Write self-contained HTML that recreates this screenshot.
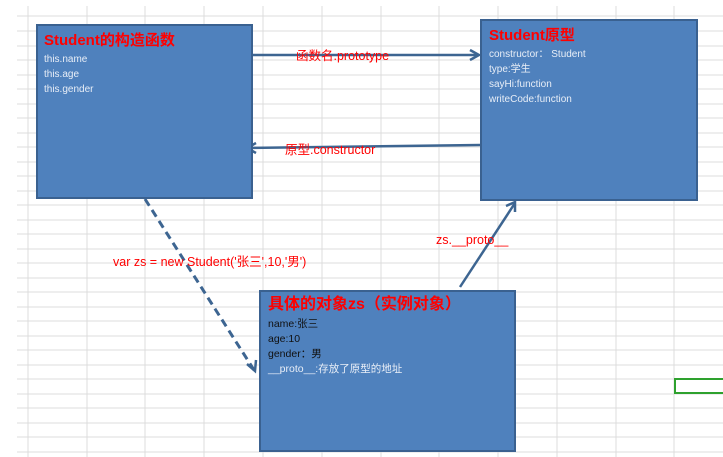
<!DOCTYPE html>
<html><head><meta charset="utf-8"><style>
body{margin:0;width:723px;height:457px;background:#fff;position:relative;overflow:hidden;font-family:"Liberation Sans","Noto Sans CJK SC",sans-serif}
.box{position:absolute;background:#4f81bd;border:2px solid #3a6190;box-sizing:border-box;color:#e8eef7;font-size:10px;line-height:15px}
.t{color:#f00;font-weight:bold;font-size:15px;line-height:20px;margin-bottom:1px}
.lbl{position:absolute;color:#f00;font-size:12.5px;white-space:nowrap}
</style></head><body>
<svg width="723" height="457" style="position:absolute;left:0;top:0">
<g stroke="#dcdcdc" stroke-width="1">
<line x1="17" y1="16" x2="723" y2="16"/><line x1="17" y1="31" x2="723" y2="31"/><line x1="17" y1="46" x2="723" y2="46"/><line x1="17" y1="60" x2="723" y2="60"/><line x1="17" y1="75" x2="723" y2="75"/><line x1="17" y1="89" x2="723" y2="89"/><line x1="17" y1="104" x2="723" y2="104"/><line x1="17" y1="118" x2="723" y2="118"/><line x1="17" y1="133" x2="723" y2="133"/><line x1="17" y1="147" x2="723" y2="147"/><line x1="17" y1="162" x2="723" y2="162"/><line x1="17" y1="176" x2="723" y2="176"/><line x1="17" y1="191" x2="723" y2="191"/><line x1="17" y1="205" x2="723" y2="205"/><line x1="17" y1="220" x2="723" y2="220"/><line x1="17" y1="234" x2="723" y2="234"/><line x1="17" y1="249" x2="723" y2="249"/><line x1="17" y1="263" x2="723" y2="263"/><line x1="17" y1="278" x2="723" y2="278"/><line x1="17" y1="292" x2="723" y2="292"/><line x1="17" y1="307" x2="723" y2="307"/><line x1="17" y1="321" x2="723" y2="321"/><line x1="17" y1="336" x2="723" y2="336"/><line x1="17" y1="350" x2="723" y2="350"/><line x1="17" y1="365" x2="723" y2="365"/><line x1="17" y1="379" x2="723" y2="379"/><line x1="17" y1="394" x2="723" y2="394"/><line x1="17" y1="408" x2="723" y2="408"/><line x1="17" y1="423" x2="723" y2="423"/><line x1="17" y1="437" x2="723" y2="437"/><line x1="17" y1="452" x2="723" y2="452"/>
<line x1="28" y1="6" x2="28" y2="457"/><line x1="87" y1="6" x2="87" y2="457"/><line x1="145" y1="6" x2="145" y2="457"/><line x1="204" y1="6" x2="204" y2="457"/><line x1="263" y1="6" x2="263" y2="457"/><line x1="322" y1="6" x2="322" y2="457"/><line x1="381" y1="6" x2="381" y2="457"/><line x1="439" y1="6" x2="439" y2="457"/><line x1="498" y1="6" x2="498" y2="457"/><line x1="557" y1="6" x2="557" y2="457"/><line x1="616" y1="6" x2="616" y2="457"/><line x1="674" y1="6" x2="674" y2="457"/>
</g>
<rect x="675" y="379" width="50" height="14" fill="none" stroke="#2ea12e" stroke-width="2"/>
<g stroke="#3d6591" stroke-width="2.5" fill="none">
<line x1="252" y1="55" x2="478" y2="55"/><polyline points="470,50 479,55 470,60"/>
<line x1="480" y1="145" x2="248" y2="148"/><polyline points="256,143 247,148 256,153"/>
<line x1="145" y1="199" x2="254" y2="370" stroke-dasharray="8,5" stroke-width="3"/><polyline points="247,364 255,371 256,360"/>
<line x1="460" y1="287" x2="515" y2="203"/><polyline points="506,206 515,202 515,212"/>
</g>
</svg>
<div class="box" style="left:36px;top:24px;width:217px;height:175px;padding:5px 6px">
<div class="t">Student的构造函数</div>this.name<br>this.age<br>this.gender</div>
<div class="box" style="left:480px;top:19px;width:218px;height:182px;padding:5px 7px">
<div class="t">Student原型</div>constructor： Student<br>type:学生<br>sayHi:function<br>writeCode:function</div>
<div class="box" style="left:259px;top:290px;width:257px;height:162px;padding:2px 7px;color:#111;font-size:10.5px">
<div class="t" style="font-size:16px;line-height:22px">具体的对象zs（实例对象）</div>name:张三<br>age:10<br>gender：男<br><span style="color:#e8eef7">__proto__:存放了原型的地址</span></div>
<div class="lbl" style="left:296px;top:45px">函数名.prototype</div>
<div class="lbl" style="left:285px;top:139px">原型.constructor</div>
<div class="lbl" style="left:113px;top:251px">var zs = new Student('张三',10,'男')</div>
<div class="lbl" style="left:436px;top:233px">zs.__proto__</div>
</body></html>
